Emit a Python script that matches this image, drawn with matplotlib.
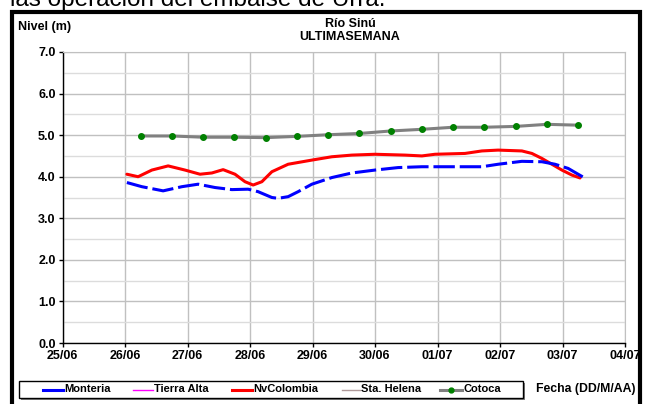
import matplotlib
matplotlib.use("Agg")
import matplotlib.pyplot as plt
from matplotlib.lines import Line2D
from matplotlib.patches import Rectangle
from matplotlib.ticker import MultipleLocator

plt.rcParams['font.family'] = ['Liberation Sans', 'DejaVu Sans']

# ---- data (x = days since 25/06 00:00) ----
xtick_labels = ["25/06", "26/06", "27/06", "28/06", "29/06", "30/06",
                "01/07", "02/07", "03/07", "04/07"]
ytick_values = [0, 1, 2, 3, 4, 5, 6, 7]

monteria_x = [1.03, 1.27, 1.61, 1.91, 2.17, 2.44, 2.71, 2.97, 3.13, 3.35, 3.45,
              3.61, 3.77, 3.99, 4.31, 4.63, 5.00, 5.37, 5.75, 6.71, 6.97, 7.35,
              7.67, 7.88, 8.09, 8.25, 8.39]
monteria_y = [3.86, 3.76, 3.66, 3.76, 3.82, 3.74, 3.69, 3.70, 3.64, 3.50, 3.48,
              3.52, 3.64, 3.82, 3.98, 4.09, 4.16, 4.22, 4.24, 4.24, 4.30, 4.37,
              4.36, 4.30, 4.20, 4.06, 3.94]

nvcol_x = [1.03, 1.21, 1.43, 1.69, 1.96, 2.20, 2.39, 2.57, 2.76, 2.92, 3.05,
           3.19, 3.35, 3.61, 3.99, 4.31, 4.63, 5.00, 5.48, 5.75, 5.96, 6.44,
           6.71, 6.97, 7.35, 7.51, 7.67, 7.83, 7.99, 8.15, 8.28]
nvcol_y = [4.06, 4.00, 4.16, 4.26, 4.16, 4.06, 4.09, 4.17, 4.06, 3.88, 3.80,
           3.88, 4.12, 4.30, 4.40, 4.48, 4.52, 4.54, 4.52, 4.50, 4.54, 4.56,
           4.62, 4.64, 4.62, 4.56, 4.44, 4.30, 4.16, 4.04, 3.97]

cotoca_x = [1.25, 1.75, 2.25, 2.75, 3.25, 3.75, 4.25, 4.75, 5.25, 5.75, 6.25,
            6.75, 7.25, 7.75, 8.25]
cotoca_y = [4.98, 4.98, 4.95, 4.95, 4.94, 4.97, 5.01, 5.04, 5.10, 5.14, 5.19,
            5.19, 5.21, 5.26, 5.24]

series_names = ["Monteria", "Tierra Alta", "NvColombia", "Sta. Helena", "Cotoca"]

W, H = 650, 404
def P(x, y):
    return (x / W, 1 - y / H)

fig = plt.figure(figsize=(W / 100, H / 100), dpi=100)
ax = fig.add_axes([62.5 / W, 1 - 343 / H, (625 - 62.5) / W, (343 - 52) / H])

ax.set_xlim(0, 9)
ax.set_ylim(0, 7)
ax.set_xticks(range(len(xtick_labels)))
ax.set_xticklabels(xtick_labels)
ax.set_yticks(ytick_values)
ax.set_yticklabels([f"{v:.1f}" for v in ytick_values])
ax.yaxis.set_minor_locator(MultipleLocator(0.5))
ax.grid(which='major', axis='both', color='#c0c0c0', lw=1)
ax.grid(which='minor', axis='y', color='#dcdcdc', lw=1)
ax.set_axisbelow(True)
for s in ['top', 'right']:
    ax.spines[s].set_color('#c0c0c0')
for s in ['left', 'bottom']:
    ax.spines[s].set_color('black')
    ax.spines[s].set_linewidth(1)
ax.tick_params(which='major', length=3, width=1, pad=2, labelsize=9)
ax.tick_params(which='minor', length=0)
for lab in ax.get_xticklabels() + ax.get_yticklabels():
    lab.set_fontweight('bold')

# series
ax.plot(cotoca_x, cotoca_y, color='#b09a9a', lw=1, zorder=2)  # Sta. Helena (under)
ax.plot(cotoca_x, cotoca_y, color='#808080', lw=2.2, marker='o', ms=4,
        mfc='#008000', mec='#008000', zorder=3, solid_joinstyle='round')
ax.plot(nvcol_x, nvcol_y, color='#ff0000', lw=2.2, zorder=4,
        solid_joinstyle='round', solid_capstyle='round')
ax.plot(monteria_x, monteria_y, color='#0000ff', lw=2.2,
        linestyle=(0, (7, 1.6)), zorder=5, dash_joinstyle='round')

# titles
fig.text(*P(350, 24), "Río Sinú", ha='center', va='center',
         fontsize=9, fontweight='bold')
fig.text(*P(350, 37), "ULTIMASEMANA", ha='center', va='center',
         fontsize=9, fontweight='bold')
fig.text(*P(18, 27), "Nivel (m)", ha='left', va='center',
         fontsize=9, fontweight='bold')
fig.text(*P(635, 389), "Fecha (DD/M/AA)", ha='right', va='center',
         fontsize=8.8, fontweight='bold')

# partial text at top of image
fig.text(*P(10, 6), "las operación del embalse de Urrá.", ha='left',
         va='baseline', fontsize=17.5)

# outer frame
fig.add_artist(Rectangle((12 / W, -0.05), (640 - 12) / W, (404 - 12) / H + 0.05,
                         transform=fig.transFigure, fill=False, ec='black',
                         lw=3, clip_on=False))

# legend (drawn manually in figure pixels)
x0, x1, y0, y1 = 19, 523, 381, 398
fig.add_artist(Rectangle(P(x0 + 2, y1 + 2), (x1 - x0) / W, (y1 - y0) / H,
                         transform=fig.transFigure, fc='#808080', ec='none',
                         zorder=1))
fig.add_artist(Rectangle(P(x0, y1), (x1 - x0) / W, (y1 - y0) / H,
                         transform=fig.transFigure, fc='white', ec='black',
                         lw=1, zorder=2))
leg_handles = [
    dict(color='#0000ff', lw=2.2),
    dict(color='#ff00ff', lw=1),
    dict(color='#ff0000', lw=2.2),
    dict(color='#b09a9a', lw=1),
    dict(color='#808080', lw=2.2, marker='o', ms=3.5, mfc='#008000',
         mec='#008000', markevery=[1]),
]
leg_starts = [43, 133, 232, 342, 440]
leg_lens = [20, 20, 20, 18, 22]
ly = 389.5
for name, st, ln, hk in zip(series_names, leg_starts, leg_lens, leg_handles):
    xa, ya = P(st, ly)
    xb, _ = P(st + ln, ly)
    xm = (xa + xb) / 2
    fig.add_artist(Line2D([xa, xm, xb], [ya, ya, ya], transform=fig.transFigure,
                          zorder=3, **hk))
    fig.text(*P(st + ln + 1, ly), name, ha='left', va='center', fontsize=8,
             fontweight='bold', zorder=3)

fig.savefig("out.png", dpi=100)
